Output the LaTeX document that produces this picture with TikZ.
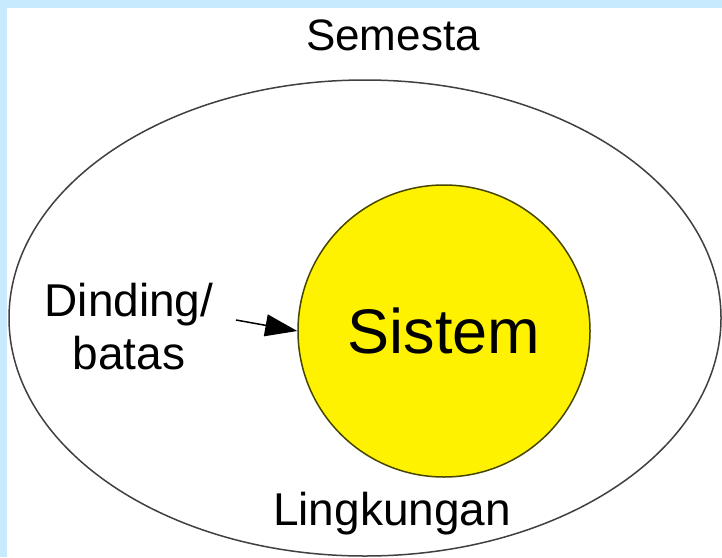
\documentclass[tikz,border=0pt]{standalone}
\usepackage{fontspec}
\setmainfont{Liberation Sans}
\usetikzlibrary{arrows.meta}
\definecolor{framebg}{RGB}{200,234,255}
\definecolor{rimcol}{RGB}{70,70,0}
\begin{document}
\begin{tikzpicture}[
  x=1pt, y=-1pt,
  lbl/.style={inner sep=0pt, font=\fontsize{46}{53}\selectfont, align=center},
  sys/.style={circle, draw=rimcol, line width=1.5pt, fill=yellow, minimum size=292pt, inner sep=0pt, font=\fontsize{63}{70}\selectfont}
]
% Background
\fill[framebg] (0,0) rectangle (722,557);
\fill[white] (7,8) rectangle (722,557);
\useasboundingbox (0,0) rectangle (722,557);

% Universe and system
\draw[black!75, line width=1.5pt] (365,318) ellipse [x radius=356, y radius=238];
\node[sys] (sistem) at (444,331) {Sistem};

% Labels
\node[lbl, anchor=base] (semesta) at (393,50) {\fontsize{44}{50}\selectfont Semesta};
\node[lbl] (dinding) at (129,327) {Dinding/\\batas};
\node[lbl, anchor=base] (lingkungan) at (392,525) {Lingkungan};

% Arrow
\coordinate (tail) at (236,320);
\draw[line width=1.5pt, -{Triangle[length=32pt, width=22pt]}] (tail) -- (sistem.west);
\end{tikzpicture}
\end{document}
